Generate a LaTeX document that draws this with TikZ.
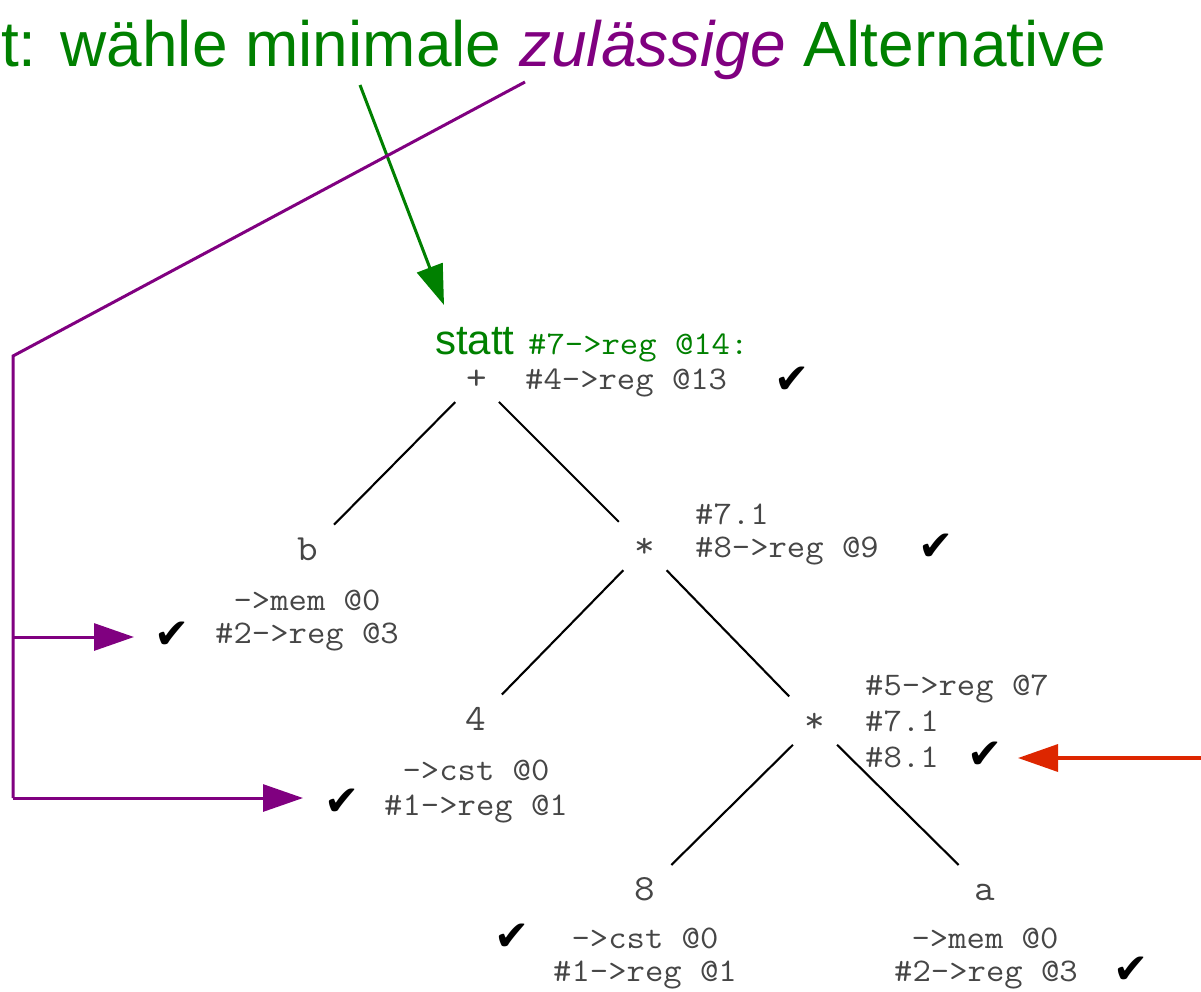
\documentclass[tikz,border=0pt]{standalone}
\usepackage{fontspec}
\setmainfont{Liberation Sans}
\newfontfamily\codefamily{Latin Modern Mono}[FakeStretch=1.08]
\newfontfamily\symfont{DejaVu Sans}
\usetikzlibrary{arrows.meta}
\definecolor{dkgreen}{RGB}{0,128,0}
\definecolor{dkpurple}{RGB}{128,0,128}
\definecolor{arrred}{RGB}{221,38,0}
\definecolor{codegray}{RGB}{70,70,70}
\begin{document}
\begin{tikzpicture}[x=1pt,y=-1pt,
  codefont/.style={font=\codefamily\fontsize{33}{33}\selectfont},
  code/.style={codefont, text=codegray, inner sep=0pt, anchor=base west},
  codec/.style={codefont, text=codegray, inner sep=0pt, anchor=base},
  treenode/.style={font=\codefamily\fontsize{37}{37}\selectfont, text=codegray, inner sep=0pt,
    text height=18pt, text depth=0pt, anchor=base},
  tick/.style={font=\symfont\fontsize{42}{42}\selectfont, inner sep=0pt},
  edge/.style={line width=2.1pt, shorten <=31pt, shorten >=37pt},
  pointer/.style={line width=3pt, -{Triangle[length=40pt,width=27pt]}},
]
\useasboundingbox (0,0) rectangle (1201,991);

% heading
\node[anchor=base west, inner sep=0pt, text=dkgreen, font=\fontsize{64}{64}\selectfont]
  (title) at (1,66) {t: wähle minimale \textcolor{dkpurple}{\itshape zulässige} Alternative};

% tree nodes
\node[treenode] (plus)  at (477,389) {+};
\node[treenode] (b)     at (308,560) {b};
\node[treenode] (mul1)  at (645,557) {*};
\node[treenode] (four)  at (476,730) {4};
\node[treenode] (mul2)  at (815,732) {*};
\node[treenode] (eight) at (645,900) {8};
\node[treenode] (a)     at (985,900) {a};

% tree edges
\draw[edge] (plus.center) -- (b.center);
\draw[edge] (plus.center) -- (mul1.center);
\draw[edge] (mul1.center) -- (four.center);
\draw[edge] (mul1.center) -- (mul2.center);
\draw[edge] (mul2.center) -- (eight.center);
\draw[edge] (mul2.center) -- (a.center);

% annotations of +
\node[anchor=base west, inner sep=0pt, text=dkgreen, font=\fontsize{42}{42}\selectfont]
  (statt) at (435,354) {statt};
\node[code, text=dkgreen] (plusalt) at (528,354) {\#7->reg @14:};
\node[code] (pluscost) at (525,389) {\#4->reg @13};
\node[tick] (tickplus) at (792,380) {✔};

% annotations of upper *
\node[code] (m1a) at (695,524) {\#7.1};
\node[code] (m1b) at (695,557) {\#8->reg @9};
\node[tick] (tickm1) at (936,547) {✔};

% annotations of b
\node[codec] (ba) at (307,610) {->mem @0};
\node[codec] (bb) at (307,643) {\#2->reg @3};
\node[tick] (tickb) at (172,635) {✔};

% annotations of 4
\node[codec] (fa) at (476,780) {->cst @0};
\node[codec] (fb) at (476,815) {\#1->reg @1};
\node[tick] (tickfour) at (342,802) {✔};

% annotations of lower *
\node[code] (m2a) at (865,695) {\#5->reg @7};
\node[code] (m2b) at (865,731) {\#7.1};
\node[code] (m2c) at (865,767) {\#8.1};
\node[tick] (tickm2) at (985,755) {✔};

% annotations of 8
\node[codec] (ea) at (645,948) {->cst @0};
\node[codec] (eb) at (645,981) {\#1->reg @1};
\node[tick] (tickeight) at (512,937) {✔};

% annotations of a
\node[codec] (aa) at (985,948) {->mem @0};
\node[codec] (ab) at (986,981) {\#2->reg @3};
\node[tick] (ticka) at (1131,970) {✔};

% pointers
\coordinate (gstart) at (360,85);
\coordinate (gend) at (444,305);
\draw[pointer, dkgreen] (gstart) -- (gend);

\coordinate (pstart) at (525,82);
\coordinate (pcorner) at (13,356);
\coordinate (pfork) at (13,637);
\coordinate (plow) at (13,798);
\coordinate (pbtip) at (134,637);
\coordinate (pftip) at (303,798);
\draw[line width=3pt, dkpurple, line join=miter] (pstart) -- (pcorner) -- (plow);
\draw[pointer, dkpurple] (pfork) -- (pbtip);
\draw[pointer, dkpurple] (plow) -- (pftip);

\coordinate (rstart) at (1203,758);
\coordinate (rtip) at (1018,758);
\draw[pointer, arrred, line width=3.5pt] (rstart) -- (rtip);
\end{tikzpicture}
\end{document}
